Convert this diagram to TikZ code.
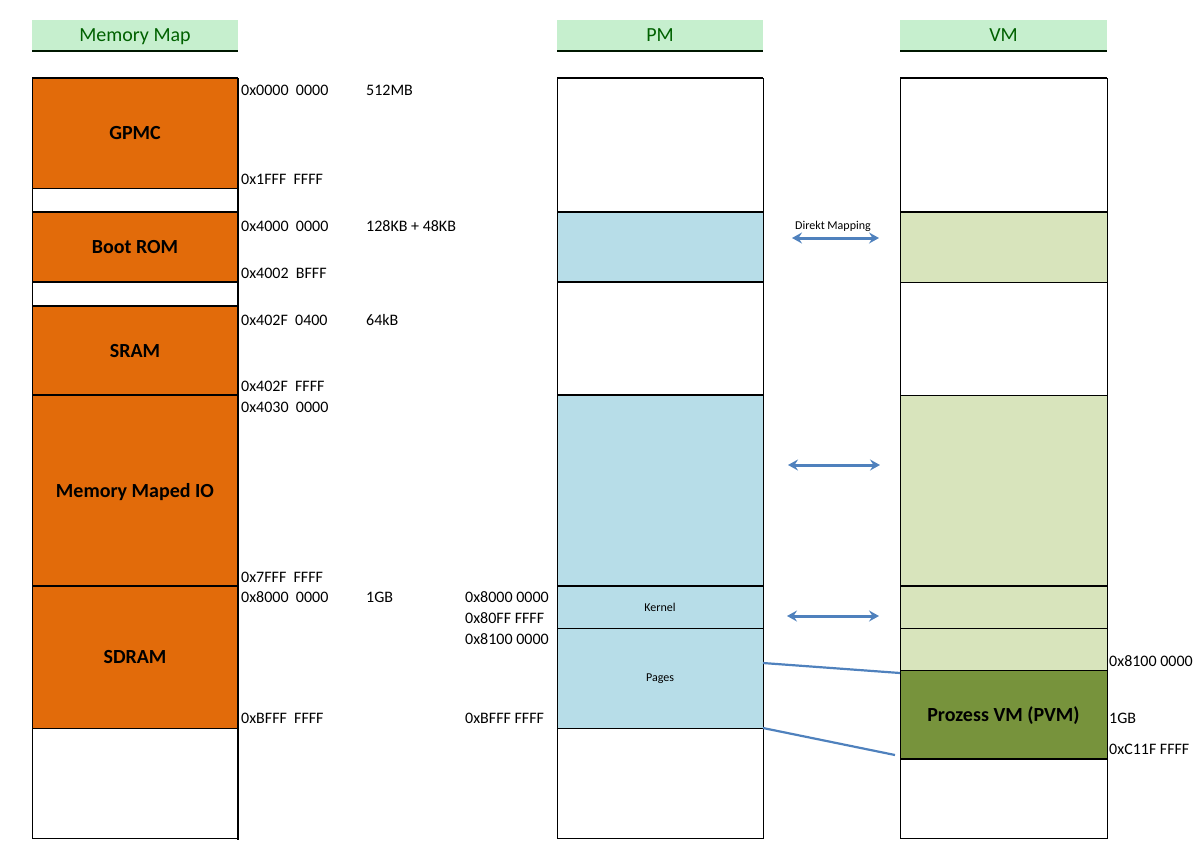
\documentclass[tikz,border=0pt]{standalone}
\usepackage{fontspec}
\setmainfont{Carlito}
\usetikzlibrary{arrows.meta}
\definecolor{mmorange}{HTML}{E26B0A}
\definecolor{pmblue}{HTML}{B7DDE8}
\definecolor{vmlight}{HTML}{D8E4BC}
\definecolor{vmdark}{HTML}{77933C}
\definecolor{hdrfill}{HTML}{C6EFCE}
\definecolor{hdrtext}{HTML}{006100}
\definecolor{arrblue}{HTML}{4F81BD}
\newcommand\mreg[7]{\node[region, anchor=north west, minimum width=#4, minimum height=#5, fill=#6] (#1) at (#2,#3) {#7};}
\begin{document}
\begin{tikzpicture}[x=1pt,y=-1pt,
  region/.style={draw=black, line width=1pt, inner sep=0pt, outer sep=0pt, text depth=0pt, font=\fontsize{20}{24}\selectfont\bfseries},
  hdr/.style={fill=hdrfill, text=hdrtext, anchor=north west, minimum width=206, minimum height=31, inner sep=0pt, outer sep=0pt, text depth=0pt, font=\fontsize{20}{24}\selectfont},
  addr/.style={anchor=base west, inner sep=0pt, font=\fontsize{16}{19}\selectfont},
  thickline/.style={line width=2pt},
  arr/.style={draw=arrblue, line width=3pt, {Stealth[length=10pt,width=11pt,inset=3.5pt]}-{Stealth[length=10pt,width=11pt,inset=3.5pt]}},
  mapline/.style={draw=arrblue, line width=2.2pt}
]
\useasboundingbox (0,0) rectangle (1194,847);
% headers
\node[hdr] (h1) at (32,20) {Memory Map};
\node[hdr] (h2) at (557,20) {PM};
\node[hdr, minimum width=207] (h3) at (900,20) {VM};
\foreach \h in {h1,h2,h3} \draw[line width=1.2pt, black!75!hdrtext] (\h.south west) -- (\h.south east);
% memory map
\mreg{gpmc}{32}{78}{206}{110}{mmorange}{GPMC}
\mreg{gap1}{32}{188}{206}{24}{white}{}
\mreg{boot}{32}{212}{206}{70}{mmorange}{Boot ROM}
\mreg{gap2}{32}{282}{206}{24}{white}{}
\mreg{sram}{32}{306}{206}{89}{mmorange}{SRAM}
\mreg{mmio}{32}{395}{206}{191}{mmorange}{Memory Maped IO}
\mreg{sdram}{32}{586}{206}{142}{mmorange}{SDRAM}
\mreg{mmfree}{32}{728}{206}{110}{white}{}
\foreach \n in {gpmc,boot,gap2,sram,mmio,sdram} \draw[thickline] (\n.north west) -- (\n.north east);
\draw[thickline] (gpmc.north east) -- ([yshift=-2pt]mmfree.south east);
% PM
\mreg{pma}{557}{78}{206}{134}{white}{}
\mreg{pmb}{557}{212}{206}{70}{pmblue}{}
\mreg{pmc}{557}{282}{206}{113}{white}{}
\mreg{pmd}{557}{395}{206}{191}{pmblue}{}
\mreg{kernel}{557}{586}{206}{42}{pmblue}{\fontsize{12}{14}\selectfont\mdseries Kernel}
\mreg{pages}{557}{628}{206}{100}{pmblue}{\fontsize{12}{14}\selectfont\mdseries Pages}
\mreg{pme}{557}{728}{206}{110}{white}{}
\foreach \n in {pma,pmb,pmc,pmd,kernel} \draw[thickline] (\n.north west) -- (\n.north east);
% VM
\mreg{vma}{900}{78}{207}{134}{white}{}
\mreg{vmb}{900}{212}{207}{70}{vmlight}{}
\mreg{vmc}{900}{282}{207}{113}{white}{}
\mreg{vmd}{900}{395}{207}{191}{vmlight}{}
\mreg{vme}{900}{586}{207}{42}{vmlight}{}
\mreg{vmf}{900}{628}{207}{42}{vmlight}{}
\mreg{pvm}{900}{670}{207}{89}{vmdark}{Prozess VM (PVM)}
\mreg{vmg}{900}{759}{207}{79}{white}{}
\foreach \n in {vma,vmb,vme,vmg} \draw[thickline] (\n.north west) -- (\n.north east);
% memory map labels
\node[addr] (l1) at (241,95) {0x0000\ \ 0000};
\node[addr] (s1) at (366,95) {512MB};
\node[addr] (l2) at (241,184) {0x1FFF\ \ FFFF};
\node[addr] (l3) at (241,231) {0x4000\ \ 0000};
\node[addr] (s2) at (366,231) {128KB + 48KB};
\node[addr] (l4) at (241,278) {0x4002\ \ BFFF};
\node[addr] (l5) at (241,325) {0x402F\ \ 0400};
\node[addr] (s3) at (366,325) {64kB};
\node[addr] (l6) at (241,391) {0x402F\ \ FFFF};
\node[addr] (l7) at (241,412) {0x4030\ \ 0000};
\node[addr] (l8) at (241,582) {0x7FFF\ \ FFFF};
\node[addr] (l9) at (241,602) {0x8000\ \ 0000};
\node[addr] (s4) at (366,602) {1GB};
\node[addr] (l10) at (241,723) {0xBFFF\ \ FFFF};
% PM labels
\node[addr] (p1) at (465,602) {0x8000 0000};
\node[addr] (p2) at (465,623) {0x80FF FFFF};
\node[addr] (p3) at (465,644) {0x8100 0000};
\node[addr] (p4) at (465,723) {0xBFFF FFFF};
% VM labels
\node[addr] (v1) at (1109,666) {0x8100 0000};
\node[addr] (v2) at (1109,723) {1GB};
\node[addr] (v3) at (1109,754) {0xC11F FFFF};
% arrows
\draw[arr] ([xshift=29pt,yshift=9pt]pmb.east) -- ([xshift=-21pt,yshift=9pt]vmb.west);
\node[font=\fontsize{12}{14}\selectfont, inner sep=0pt] (dm) at (833,226) {Direkt Mapping};
\draw[arr] ([xshift=25pt,yshift=25.5pt]pmd.east) -- ([xshift=-20pt,yshift=25.5pt]vmd.west);
\draw[arr] ([xshift=24pt,yshift=-9pt]kernel.east) -- ([xshift=-21pt,yshift=-9pt]vme.west);
% mapping lines
\draw[mapline] ([yshift=-35pt]pages.north east) -- ([yshift=-3pt]pvm.north west);
\draw[mapline] (pages.south east) -- ([xshift=-5pt,yshift=4pt]pvm.south west);
\end{tikzpicture}
\end{document}
